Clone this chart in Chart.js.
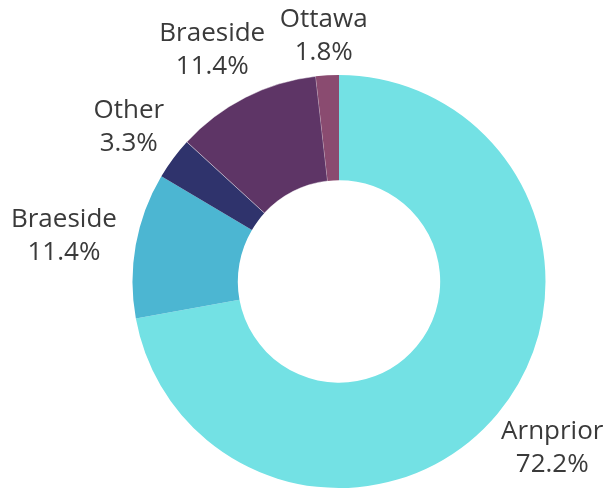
<!DOCTYPE html>
<html>
<head>
<meta charset="utf-8">
<script src="https://cdn.jsdelivr.net/npm/chart.js@4.4.1/dist/chart.umd.min.js"></script>
<style>
  html, body { margin: 0; padding: 0; background: #fff; }
  #wrap { width: 608px; height: 493px; position: relative; }
</style>
</head>
<body>
<div id="wrap"><canvas id="shareChart"></canvas></div>
<script>
// clockwise from 12 o'clock
const labels = ['Arnprior', 'Braeside', 'Other', 'Braeside', 'Ottawa'];
const shares = [72.2, 11.4, 3.3, 11.4, 1.8];
const colors = ['#73e1e4', '#4cb6d2', '#2f336c', '#5e3566', '#8a4b70'];

// two-line outside labels, pushed out along each slice's mid angle
// and kept inside the canvas
const outsideLabels = {
    id: 'outsideLabels',
    afterDatasetsDraw(chart) {
        const ctx = chart.ctx;
        const meta = chart.getDatasetMeta(0);
        const pad = 20;
        const lineH = 33;
        const edge = 3;
        ctx.save();
        ctx.font = '26px "Open Sans", sans-serif';
        ctx.fillStyle = '#3a3a3a';
        ctx.textAlign = 'center';
        ctx.textBaseline = 'middle';
        meta.data.forEach((arc, i) => {
            const p = arc.getProps(['x', 'y', 'startAngle', 'endAngle', 'outerRadius']);
            const mid = (p.startAngle + p.endAngle) / 2;
            const cos = Math.cos(mid), sin = Math.sin(mid);
            const lines = [labels[i], shares[i].toFixed(1) + '%'];
            const w = Math.max(...lines.map(t => ctx.measureText(t).width));
            const h = lineH * 2;
            const ax = p.x + cos * (p.outerRadius + pad);
            const ay = p.y + sin * (p.outerRadius + pad);
            let cx = ax + cos * w / 2;
            let cy = ay + sin * h / 2;
            cx = Math.min(Math.max(cx, edge + w / 2), chart.width - edge - w / 2);
            cy = Math.min(Math.max(cy, edge + h / 2), chart.height - edge - h / 2);
            ctx.fillText(lines[0], cx, cy - lineH / 2);
            ctx.fillText(lines[1], cx, cy + lineH / 2);
        });
        ctx.restore();
    }
};

new Chart(document.getElementById('shareChart'), {
    type: 'doughnut',
    data: {
        labels: labels,
        datasets: [{
            data: shares,
            backgroundColor: colors,
            borderColor: 'rgba(255,255,255,0.45)',
            borderWidth: [0, 0, 0, 1, 0]
        }]
    },
    options: {
        responsive: true,
        maintainAspectRatio: false,
        animation: false,
        cutout: '49%',
        layout: { padding: { left: 132, right: 62, top: 74, bottom: 4 } },
        plugins: {
            legend: { display: false },
            tooltip: { enabled: false }
        }
    },
    plugins: [outsideLabels]
});
</script>
</body>
</html>
